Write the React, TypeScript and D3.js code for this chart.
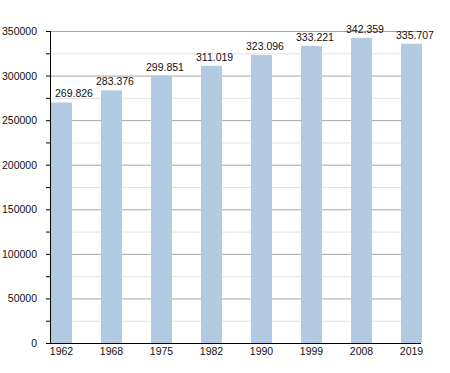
import { useEffect, useRef } from 'react';
import * as d3 from 'd3';

const years = ['1962', '1968', '1975', '1982', '1990', '1999', '2008', '2019'];
const population = [269826, 283376, 299851, 311019, 323096, 333221, 342359, 335707];
const valueLabels = ['269.826', '283.376', '299.851', '311.019', '323.096', '333.221', '342.359', '335.707'];
const majorTicks = [0, 50000, 100000, 150000, 200000, 250000, 300000, 350000];
const minorTicks = [25000, 75000, 125000, 175000, 225000, 275000, 325000];

export default function App() {
  const svgRef = useRef<SVGSVGElement>(null);

  useEffect(() => {
    if (!svgRef.current) return;
    const svg = d3.select(svgRef.current);
    svg.selectAll('*').remove();

    const width = 450;
    const height = 373;
    const left = 50;
    const right = 421;
    const font = 'Liberation Sans, Arial, sans-serif';

    const x = d3.scaleBand().domain(years).range([left, left + 50 * years.length]).paddingInner(0);
    const y = d3.scaleLinear().domain([0, 350000]).range([343, 31]);

    svg.attr('width', width).attr('height', height);
    const g = svg.append('g');

    // minor grid
    g.selectAll('.minor')
      .data(minorTicks)
      .enter().append('line')
      .attr('x1', left).attr('x2', right)
      .attr('y1', d => y(d) + 0.5).attr('y2', d => y(d) + 0.5)
      .attr('stroke', '#e2e2e2').attr('stroke-width', 1);

    // major grid
    g.selectAll('.major')
      .data(majorTicks.slice(1))
      .enter().append('line')
      .attr('x1', left).attr('x2', right)
      .attr('y1', d => y(d) + 0.5).attr('y2', d => y(d) + 0.5)
      .attr('stroke', '#a6a6a6').attr('stroke-width', 1);

    // bars
    const barW = 21;
    g.selectAll('.bar')
      .data(population)
      .enter().append('rect')
      .attr('x', (_, i) => (x(years[i]) || 0) + 1)
      .attr('width', barW)
      .attr('y', d => y(d))
      .attr('height', d => y(0) - y(d))
      .attr('fill', '#b2cbe3');

    // value labels
    g.selectAll('.val')
      .data(population)
      .enter().append('text')
      .attr('x', (_, i) => Math.max((x(years[i]) || 0) - 4, 55))
      .attr('y', d => y(d) - 5)
      .attr('font-family', font)
      .attr('font-size', 10.5)
      .attr('fill', '#111')
      .text((_, i) => valueLabels[i]);

    // axes lines
    g.append('line')
      .attr('x1', left + 0.5).attr('x2', left + 0.5)
      .attr('y1', y(350000)).attr('y2', y(0) + 1)
      .attr('stroke', '#000').attr('stroke-width', 1);
    g.append('line')
      .attr('x1', left).attr('x2', right)
      .attr('y1', y(0) + 0.5).attr('y2', y(0) + 0.5)
      .attr('stroke', '#000').attr('stroke-width', 1);

    // y ticks
    g.selectAll('.ytick')
      .data([...majorTicks, ...minorTicks])
      .enter().append('line')
      .attr('x1', left - 4).attr('x2', left)
      .attr('y1', d => y(d) + 0.5).attr('y2', d => y(d) + 0.5)
      .attr('stroke', '#000').attr('stroke-width', 1);

    g.selectAll('.ylab')
      .data(majorTicks)
      .enter().append('text')
      .attr('x', 37)
      .attr('y', d => y(d) + 4)
      .attr('text-anchor', 'end')
      .attr('font-family', font)
      .attr('font-size', 10.5)
      .attr('fill', '#111')
      .text(d => String(d));

    // x labels
    g.selectAll('.xlab')
      .data(years)
      .enter().append('text')
      .attr('x', d => (x(d) || 0) + 1 + barW / 2)
      .attr('y', 355)
      .attr('text-anchor', 'middle')
      .attr('font-family', font)
      .attr('font-size', 10.5)
      .attr('fill', '#111')
      .text(d => d);
  }, []);

  return (
    <div style={{ position: 'absolute', left: 0, top: 0, background: '#fff' }}>
      <svg ref={svgRef} style={{ display: 'block' }} />
    </div>
  );
}
